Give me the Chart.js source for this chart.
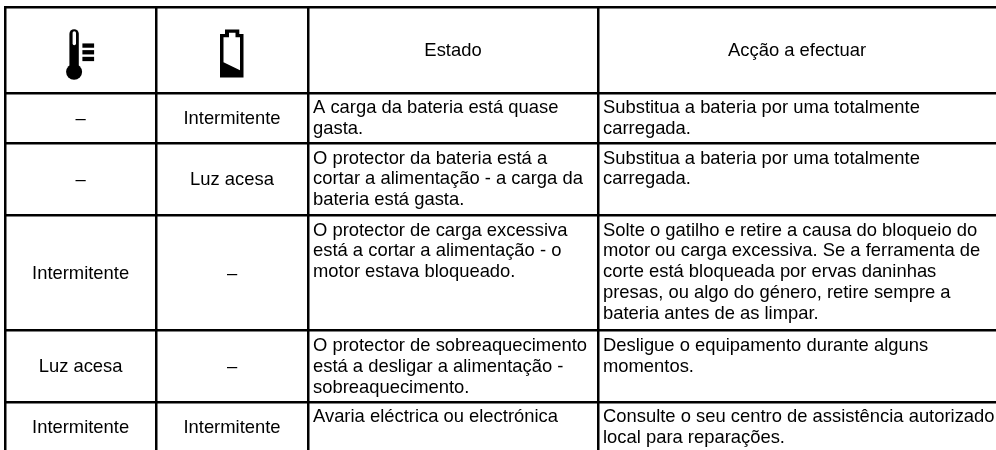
<!DOCTYPE html>
<html lang="pt">
<head>
<meta charset="utf-8">
<title>Estado e acção a efectuar</title>
<script src="https://cdn.jsdelivr.net/npm/chart.js@4"></script>
<style>html,body{margin:0;padding:0;background:#fff}canvas{display:block}</style>
</head>
<body>
<canvas id="c" width="996" height="450"></canvas>
<script>
const headers = ["", "", "Estado", "Acção a efectuar"];
const temperatureLight = ["–", "–", "Intermitente", "Luz acesa", "Intermitente"];
const batteryLight = ["Intermitente", "Luz acesa", "–", "–", "Intermitente"];
const stateText = [
  ["A carga da bateria está quase", "gasta."],
  ["O protector da bateria está a", "cortar a alimentação - a carga da", "bateria está gasta."],
  ["O protector de carga excessiva", "está a cortar a alimentação - o", "motor estava bloqueado."],
  ["O protector de sobreaquecimento", "está a desligar a alimentação -", "sobreaquecimento."],
  ["Avaria eléctrica ou electrónica"]
];
const actionText = [
  ["Substitua a bateria por uma totalmente", "carregada."],
  ["Substitua a bateria por uma totalmente", "carregada."],
  ["Solte o gatilho e retire a causa do bloqueio do", "motor ou carga excessiva. Se a ferramenta de", "corte está bloqueada por ervas daninhas", "presas, ou algo do género, retire sempre a", "bateria antes de as limpar."],
  ["Desligue o equipamento durante alguns", "momentos."],
  ["Consulte o seu centro de assistência autorizado", "local para reparações."]
];
const columnEdges = [5.2, 156, 308, 598];
const rowEdges = [7.25, 93, 143.3, 215.3, 330.7, 402];
const lastRowBottom = 452.6;

const FONT = '18.4px "Liberation Sans", Arial, sans-serif';
const LINE = 20.8;

const tablePlugin = {
  id: 'table',
  afterDraw(chart) {
    const { ctx, scales: { x, y } } = chart;
    const X = v => x.getPixelForValue(v), Y = v => y.getPixelForValue(v);
    const edgesX = columnEdges.concat([x.max]);
    const edgesY = rowEdges.concat([lastRowBottom]);
    ctx.save();
    ctx.fillStyle = '#000';
    ctx.font = FONT;
    ctx.textBaseline = 'alphabetic';
    const centre = (col, row, s) => {
      ctx.textAlign = 'center';
      ctx.fillText(s, (X(edgesX[col]) + X(edgesX[col + 1])) / 2, (Y(edgesY[row]) + Y(edgesY[row + 1])) / 2 + 5.7);
    };
    centre(2, 0, headers[2]);
    centre(3, 0, headers[3]);
    temperatureLight.forEach((s, i) => centre(0, i + 1, s));
    batteryLight.forEach((s, i) => centre(1, i + 1, s));
    const block = (col, lines, row) => {
      ctx.textAlign = 'left';
      lines.forEach((s, k) => ctx.fillText(s, X(edgesX[col]) + 5, Y(edgesY[row]) + 20.3 + k * LINE));
    };
    stateText.forEach((l, i) => block(2, l, i + 1));
    actionText.forEach((l, i) => block(3, l, i + 1));

    // header icons
    const cx0 = (X(edgesX[0]) + X(edgesX[1])) / 2, cy = (Y(edgesY[0]) + Y(edgesY[1])) / 2 - 1;
    ctx.translate(cx0, cy);
    ctx.beginPath(); ctx.arc(-6.5, 22.7, 8, 0, Math.PI * 2); ctx.fill();
    ctx.beginPath(); ctx.roundRect(-11.2, -20, 9.4, 40, 4.7); ctx.fill();
    ctx.fillStyle = '#fff';
    ctx.beginPath(); ctx.roundRect(-8, -18, 3.4, 14, 1.7); ctx.fill();
    ctx.fillStyle = '#000';
    [-5.7, 1, 7.7].forEach(d => ctx.fillRect(1.8, d, 11.7, 4.3));
    ctx.translate(-cx0, -cy);

    const cx1 = (X(edgesX[1]) + X(edgesX[2])) / 2;
    ctx.translate(cx1, cy);
    ctx.beginPath();
    ctx.moveTo(-7, -19.7); ctx.lineTo(7.3, -19.7); ctx.lineTo(7.3, -15.2); ctx.lineTo(11.5, -15.2);
    ctx.lineTo(11.5, 28.3); ctx.lineTo(-12, 28.3); ctx.lineTo(-12, -15.2); ctx.lineTo(-7, -15.2);
    ctx.closePath(); ctx.fill();
    ctx.fillStyle = '#fff';
    ctx.beginPath();
    ctx.moveTo(-3, -16.5); ctx.lineTo(3.5, -16.5); ctx.lineTo(3.5, -12); ctx.lineTo(8, -12);
    ctx.lineTo(8, 21); ctx.lineTo(-8.5, 13); ctx.lineTo(-8.5, -12); ctx.lineTo(-3, -12);
    ctx.closePath(); ctx.fill();
    ctx.restore();
  }
};

new Chart(document.getElementById('c'), {
  type: 'scatter',
  data: { datasets: [{ data: [] }] },
  plugins: [tablePlugin],
  options: {
    responsive: false,
    animation: false,
    events: [],
    layout: { padding: { left: 4, top: 6, right: 0, bottom: 0 } },
    plugins: { legend: { display: false }, tooltip: { enabled: false } },
    scales: {
      x: {
        type: 'linear', min: 4, max: 996,
        afterBuildTicks: s => { s.ticks = columnEdges.map(v => ({ value: v })); },
        ticks: { display: false },
        border: { display: false },
        grid: { color: '#000', lineWidth: 2.5, drawTicks: false, tickLength: 0 }
      },
      y: {
        type: 'linear', min: 6, max: 450, reverse: true,
        afterBuildTicks: s => { s.ticks = rowEdges.map(v => ({ value: v })); },
        ticks: { display: false },
        border: { display: false },
        grid: { color: '#000', lineWidth: 2.5, drawTicks: false, tickLength: 0 }
      }
    }
  }
});
</script>
</body>
</html>
